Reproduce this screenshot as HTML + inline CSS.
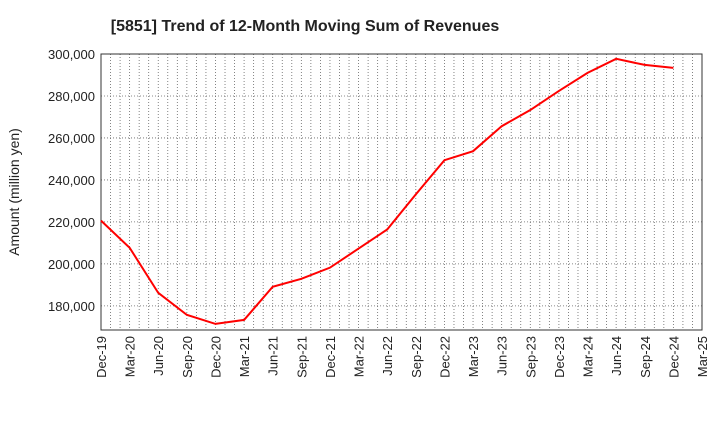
<!DOCTYPE html>
<html><head><meta charset="utf-8"><style>
body{margin:0;background:#fff;font-family:"Liberation Sans",sans-serif}
svg text{font-family:"Liberation Sans",sans-serif}
</style></head><body>
<svg id="chart" width="720" height="440">
<text x="305" y="31" text-anchor="middle" font-size="16" font-weight="bold" fill="#222">[5851]  Trend of 12-Month Moving Sum of Revenues</text>
<text transform="translate(19,192) rotate(-90)" text-anchor="middle" font-size="14" fill="#222">Amount (million yen)</text>
<g id="grid"></g><g id="axes"></g><g id="series"></g>
</svg>
<script>
const categories=["Dec-19","Mar-20","Jun-20","Sep-20","Dec-20","Mar-21","Jun-21","Sep-21","Dec-21","Mar-22","Jun-22","Sep-22","Dec-22","Mar-23","Jun-23","Sep-23","Dec-23","Mar-24","Jun-24","Sep-24","Dec-24","Mar-25"];
const revenues=[220600,207700,186200,175700,171400,173300,189100,192900,198200,207300,216400,233100,249400,253700,265600,273300,282400,291000,297700,294800,293400];
const yTicks=[180000,200000,220000,240000,260000,280000,300000];
const yTickLabels=["180,000","200,000","220,000","240,000","260,000","280,000","300,000"];
const L=101,R=702,T=54,B=330,yMin=168500,yMax=300000;
const NS="http://www.w3.org/2000/svg";
const xs=i=>L+(R-L)*i/(categories.length-1);
const ys=v=>B-(v-yMin)/(yMax-yMin)*(B-T);
function mk(t,a,p){const e=document.createElementNS(NS,t);for(const k in a)e.setAttribute(k,a[k]);p.appendChild(e);return e;}
const grid=document.getElementById('grid'),axes=document.getElementById('axes'),ser=document.getElementById('series');
for(let m=1;m<(categories.length-1)*3;m++){
 const x=xs(m/3);
 const g=mk('line',{x1:x,x2:x,y1:T,y2:B,stroke:'#666','stroke-dasharray':'1,2','stroke-width':0.8},grid);
 
 
}
categories.forEach((c,i)=>{
 const x=xs(i);
 const t=mk('text',{transform:`translate(${x+5},${B+6}) rotate(-90)`,'text-anchor':'end','font-size':13,fill:'#222'},axes);
 t.textContent=c;
 
 
});
yTicks.forEach((v,i)=>{
 const y=ys(v);
 const g=mk('line',{x1:L,x2:R,y1:y,y2:y,stroke:'#666','stroke-dasharray':'1,2','stroke-width':0.8},grid);
 
 
 const t=mk('text',{x:L-6,y:y+5,'text-anchor':'end','font-size':13,fill:'#222'},axes);
 t.textContent=yTickLabels[i];
 
 
});
const fr=mk('rect',{x:L,y:T,width:R-L,height:B-T,fill:'none',stroke:'#333','stroke-width':1},axes);


const pl=mk('polyline',{points:revenues.map((v,i)=>xs(i)+','+ys(v)).join(' '),fill:'none',stroke:'#f00','stroke-width':2},ser);


</script>
</body></html>
